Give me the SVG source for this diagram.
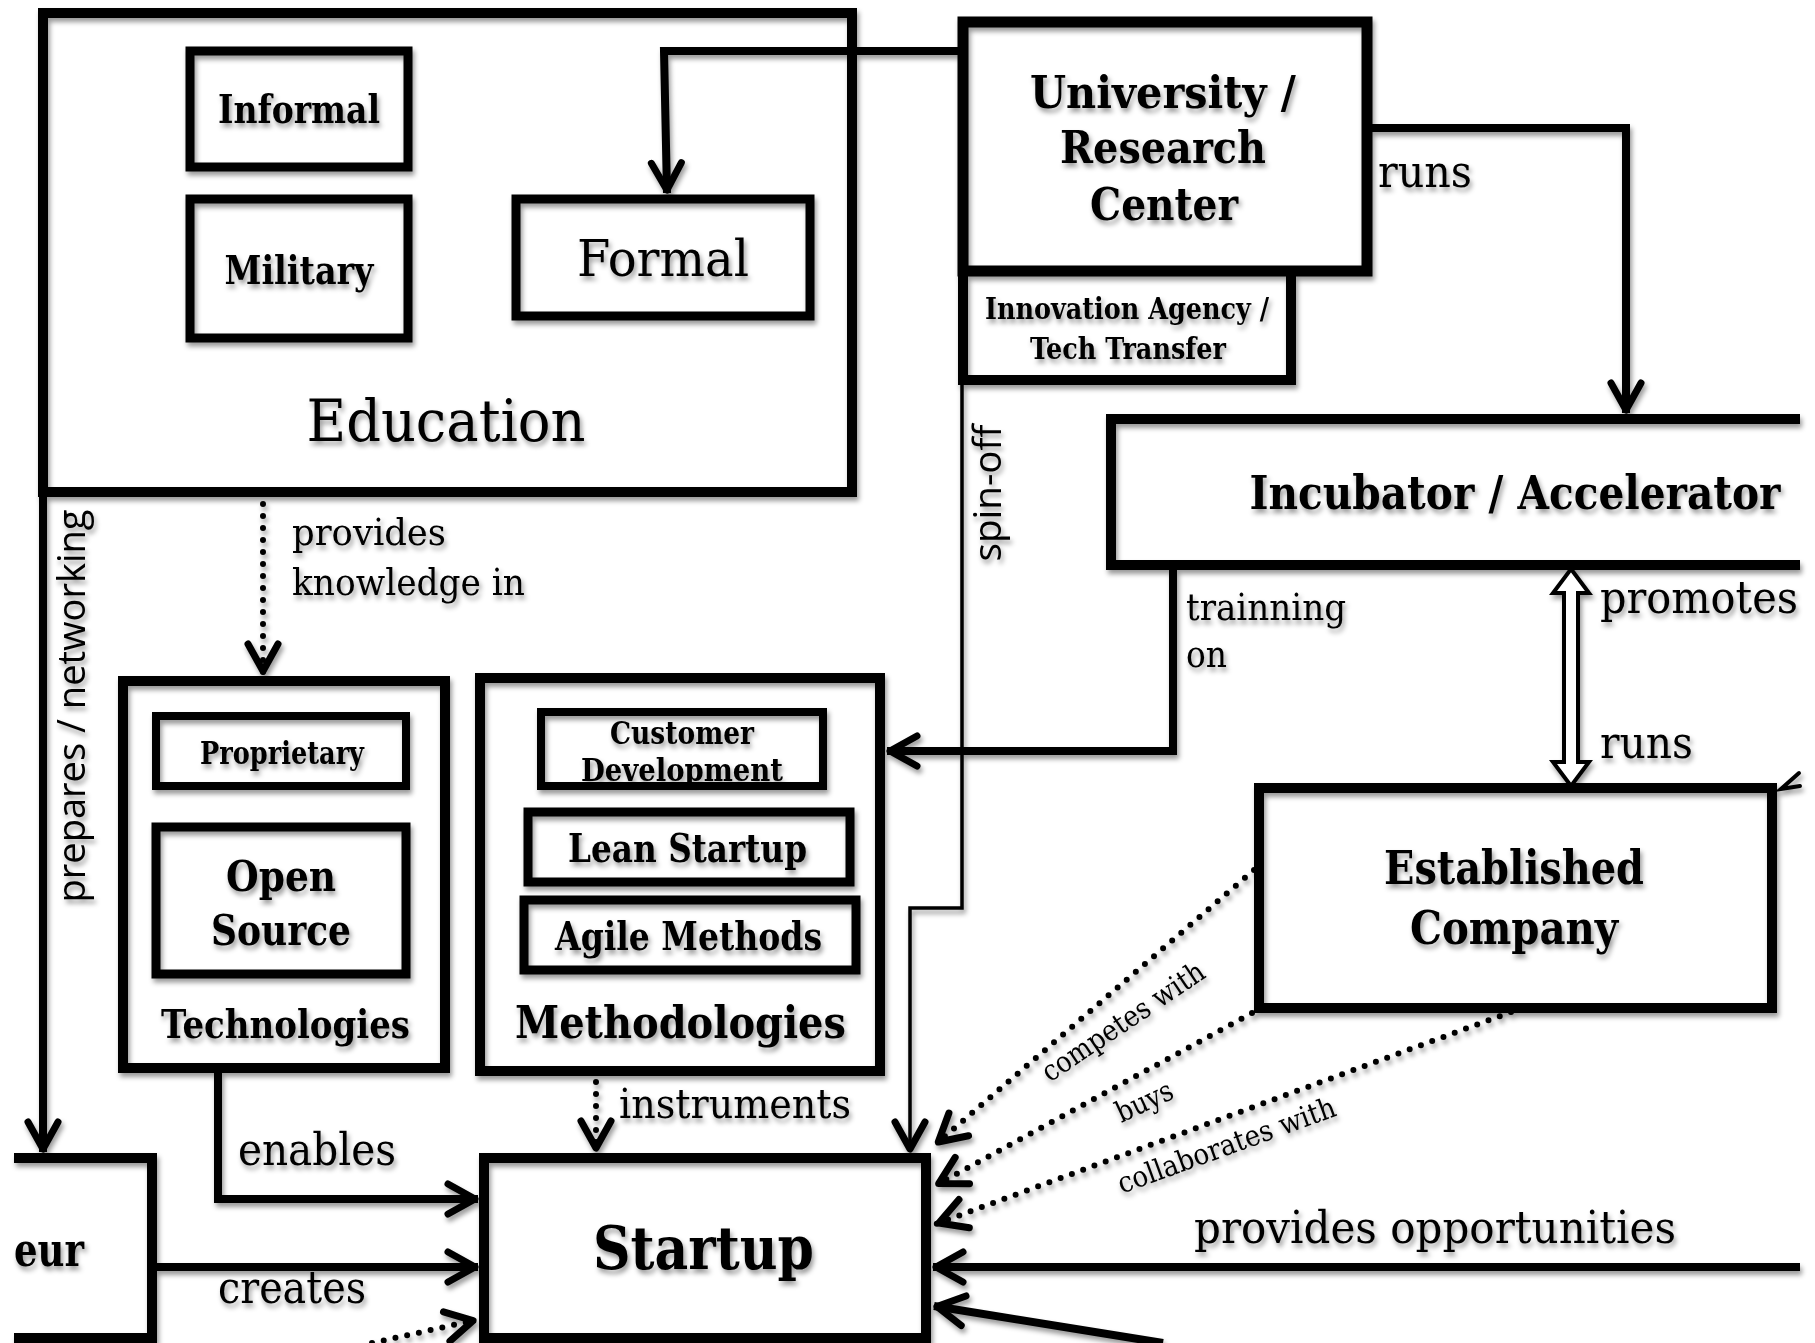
<svg xmlns="http://www.w3.org/2000/svg" width="1815" height="1343" viewBox="0 0 1815 1343">
<defs>
<style>
.bx{fill:none;stroke:#000;stroke-width:10;stroke-linejoin:miter}
.bx9{fill:none;stroke:#000;stroke-width:9}
.bx8{fill:none;stroke:#000;stroke-width:8}
.cn{fill:none;stroke:#000;stroke-width:8;stroke-linejoin:miter}
.th{fill:none;stroke:#000;stroke-width:3.5}
.dt{fill:none;stroke:#000;stroke-width:6;stroke-linecap:round;stroke-dasharray:0 12}
.b{font-family:"DejaVu Serif","Liberation Serif",serif;font-weight:bold;text-anchor:middle;fill:#000}
.r{font-family:"DejaVu Serif","Liberation Serif",serif;fill:#000}
.rm{font-family:"DejaVu Serif","Liberation Serif",serif;fill:#000;text-anchor:middle}
.s{font-family:"Open Sans","DejaVu Sans",sans-serif;fill:#000;text-anchor:middle}
</style>
<marker id="ah" markerUnits="userSpaceOnUse" viewBox="-40 -20 44 40" markerWidth="44" markerHeight="40" refX="0" refY="0" orient="auto" overflow="visible">
<path d="M-30,-15 L-3,0 L-30,15" fill="none" stroke="#000" stroke-width="7" stroke-linecap="round" stroke-linejoin="round"/>
</marker>
<filter id="sh" x="-5%" y="-5%" width="115%" height="115%">
<feDropShadow dx="2" dy="4" stdDeviation="2.5" flood-color="#000" flood-opacity="0.4"/>
</filter>
</defs>
<rect width="1815" height="1343" fill="#fff"/>

<g filter="url(#sh)">
<g id="education">
<rect class="bx" x="43" y="13" width="809" height="479"/>
<text class="rm" x="446" y="441" font-size="58" textLength="279" lengthAdjust="spacingAndGlyphs">Education</text>
</g>
<g id="informal">
<rect class="bx9" x="190" y="51" width="218" height="116"/>
<text class="b" x="299" y="123" font-size="39" textLength="162" lengthAdjust="spacingAndGlyphs">Informal</text>
</g>
<g id="military">
<rect class="bx9" x="190" y="199" width="218" height="139"/>
<text class="b" x="299" y="284" font-size="39" textLength="149" lengthAdjust="spacingAndGlyphs">Military</text>
</g>
<g id="formal">
<rect class="bx9" x="516" y="199" width="294" height="117"/>
<text class="rm" x="663" y="276" font-size="50" textLength="172" lengthAdjust="spacingAndGlyphs">Formal</text>
</g>
<g id="university">
<rect class="bx" x="963" y="22" width="404" height="249" style="stroke-width:11"/>
<text class="b" x="1163" y="108" font-size="45" textLength="266" lengthAdjust="spacingAndGlyphs">University /</text>
<text class="b" x="1163" y="163" font-size="45" textLength="206" lengthAdjust="spacingAndGlyphs">Research</text>
<text class="b" x="1164" y="220" font-size="45" textLength="148" lengthAdjust="spacingAndGlyphs">Center</text>
</g>
<g id="innovation-agency">
<path class="bx" d="M963,271 V380 H1291 V271"/>
<text class="b" x="1127" y="319" font-size="30" textLength="284" lengthAdjust="spacingAndGlyphs">Innovation Agency /</text>
<text class="b" x="1128" y="359" font-size="30" textLength="196" lengthAdjust="spacingAndGlyphs">Tech Transfer</text>
</g>
<g id="incubator">
<path class="bx" d="M1800,419 H1111 V565 H1800"/>
<text class="b" x="1515" y="509" font-size="46" textLength="531" lengthAdjust="spacingAndGlyphs">Incubator / Accelerator</text>
</g>
<g id="established-company">
<rect class="bx" x="1259" y="788" width="513" height="220"/>
<text class="b" x="1514" y="884" font-size="46" textLength="260" lengthAdjust="spacingAndGlyphs">Established</text>
<text class="b" x="1514" y="944" font-size="46" textLength="208" lengthAdjust="spacingAndGlyphs">Company</text>
</g>
<g id="technologies">
<rect class="bx" x="123" y="681" width="322" height="387"/>
<text class="b" x="285.5" y="1038" font-size="40" textLength="249" lengthAdjust="spacingAndGlyphs">Technologies</text>
</g>
<g id="proprietary">
<rect class="bx8" x="156" y="716" width="250" height="70"/>
<text class="b" x="282" y="764" font-size="31" textLength="164" lengthAdjust="spacingAndGlyphs">Proprietary</text>
</g>
<g id="open-source">
<rect class="bx9" x="156" y="827" width="250" height="147"/>
<text class="b" x="281" y="891" font-size="42" textLength="110" lengthAdjust="spacingAndGlyphs">Open</text>
<text class="b" x="281" y="945" font-size="42" textLength="140" lengthAdjust="spacingAndGlyphs">Source</text>
</g>
<g id="methodologies">
<rect class="bx" x="480" y="678" width="400" height="393"/>
<text class="b" x="680.5" y="1038" font-size="44" textLength="331" lengthAdjust="spacingAndGlyphs">Methodologies</text>
</g>
<g id="customer-development">
<rect class="bx8" x="541" y="712" width="282" height="74"/>
<text class="b" x="682" y="744" font-size="31" textLength="144" lengthAdjust="spacingAndGlyphs">Customer</text>
<text class="b" x="682" y="781" font-size="31" textLength="202" lengthAdjust="spacingAndGlyphs">Development</text>
</g>
<g id="lean-startup">
<rect class="bx9" x="528" y="812" width="322" height="70"/>
<text class="b" x="687.5" y="862" font-size="39" textLength="239" lengthAdjust="spacingAndGlyphs">Lean Startup</text>
</g>
<g id="agile-methods">
<rect class="bx9" x="524" y="900" width="332" height="70"/>
<text class="b" x="688.5" y="950" font-size="39" textLength="267" lengthAdjust="spacingAndGlyphs">Agile Methods</text>
</g>
<g id="entrepreneur">
<path class="bx" d="M14,1158 H152 V1338 H14"/>
<text class="b" x="14" y="1266" font-size="47" textLength="70" lengthAdjust="spacingAndGlyphs" style="text-anchor:start">eur</text>
</g>
<g id="startup">
<rect class="bx" x="484" y="1158" width="442" height="180"/>
<text class="b" x="703.5" y="1269" font-size="59" textLength="221" lengthAdjust="spacingAndGlyphs">Startup</text>
</g>

<g id="connectors">
<path class="cn" d="M963,51 H664 L667,193" marker-end="url(#ah)"/>
<path class="cn" d="M1367,128 H1626 V413" marker-end="url(#ah)"/>
<path class="th" d="M962,385 V908 H910 V1152" marker-end="url(#ah)"/>
<path class="cn" d="M1173,565 V751 H887" marker-end="url(#ah)"/>
<path class="dt" d="M263,504 V674" marker-end="url(#ah)"/>
<path class="cn" d="M43,495 V1152" marker-end="url(#ah)"/>
<path class="cn" d="M218,1073 V1199 H478" marker-end="url(#ah)"/>
<path class="dt" d="M596,1082 V1151" marker-end="url(#ah)"/>
<path class="cn" d="M157,1267 H478" marker-end="url(#ah)"/>
<path class="dt" d="M372,1343 L476,1320" marker-end="url(#ah)"/>
<path class="dt" d="M1254,870 L936,1144" marker-end="url(#ah)"/>
<path class="dt" d="M1252,1013 L936,1185" marker-end="url(#ah)"/>
<path class="dt" d="M1511,1012 L936,1224" marker-end="url(#ah)"/>
<path class="cn" d="M1800,1267 H933" marker-end="url(#ah)"/>
<path class="cn" d="M1163,1343 L934,1306" marker-end="url(#ah)"/>
<polygon points="1571,569 1589,593 1578,593 1578,762 1589,762 1571,786 1553,762 1564,762 1564,593 1553,593" fill="#fff" stroke="#000" stroke-width="4" stroke-linejoin="miter"/>
<path d="M1799,773 L1781,789 L1800,786" fill="none" stroke="#000" stroke-width="4" stroke-linecap="round"/>
</g>

<g id="connector-labels">
<text class="r" x="1378" y="187" font-size="45" textLength="94" lengthAdjust="spacingAndGlyphs">runs</text>
<text class="r" x="292" y="545" font-size="37" textLength="154" lengthAdjust="spacingAndGlyphs">provides</text>
<text class="r" x="292" y="595" font-size="37" textLength="233" lengthAdjust="spacingAndGlyphs">knowledge in</text>
<text class="r" x="1186" y="620" font-size="38" textLength="160" lengthAdjust="spacingAndGlyphs">trainning</text>
<text class="r" x="1186" y="667" font-size="38" textLength="41" lengthAdjust="spacingAndGlyphs">on</text>
<text class="r" x="1600" y="613" font-size="45" textLength="198" lengthAdjust="spacingAndGlyphs">promotes</text>
<text class="r" x="1600" y="758" font-size="45" textLength="93" lengthAdjust="spacingAndGlyphs">runs</text>
<text class="r" x="238" y="1165" font-size="45" textLength="158" lengthAdjust="spacingAndGlyphs">enables</text>
<text class="r" x="218" y="1303" font-size="45" textLength="148" lengthAdjust="spacingAndGlyphs">creates</text>
<text class="r" x="619" y="1118" font-size="41" textLength="232" lengthAdjust="spacingAndGlyphs">instruments</text>
<text class="r" x="1194" y="1243" font-size="45" textLength="482" lengthAdjust="spacingAndGlyphs">provides opportunities</text>
<text class="rm" transform="translate(1124,1023) rotate(-34)" x="0" y="8" font-size="29" textLength="190" lengthAdjust="spacingAndGlyphs">competes with</text>
<text class="rm" transform="translate(1145,1103) rotate(-25)" x="0" y="8" font-size="29" textLength="60" lengthAdjust="spacingAndGlyphs">buys</text>
<text class="rm" transform="translate(1227,1147) rotate(-20)" x="0" y="8" font-size="29" textLength="230" lengthAdjust="spacingAndGlyphs">collaborates with</text>
<text class="s" transform="translate(85,706) rotate(-90)" x="0" y="0" font-size="38" textLength="393" lengthAdjust="spacingAndGlyphs">prepares / networking</text>
<text class="s" transform="translate(1001,493) rotate(-90)" x="0" y="0" font-size="38" textLength="137" lengthAdjust="spacingAndGlyphs">spin-off</text>
</g>
</g>
</svg>
